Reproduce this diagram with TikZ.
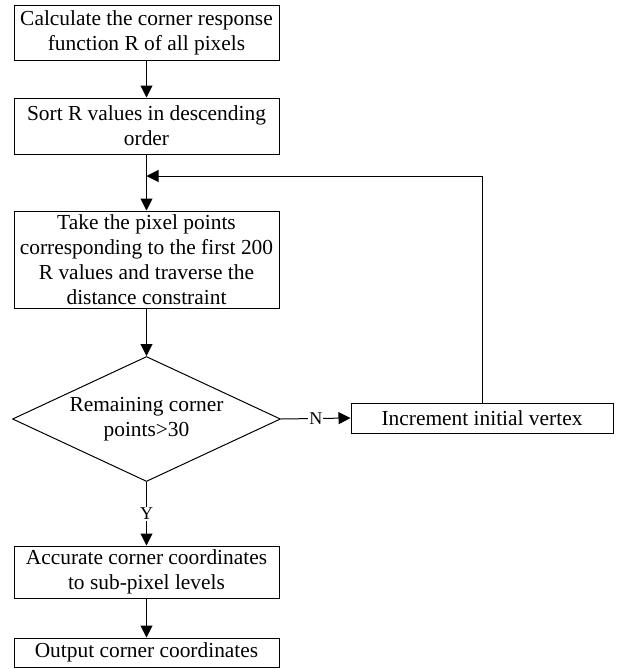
\documentclass[tikz,border=0pt]{standalone}
\usepackage{fontspec}
\setmainfont{Liberation Serif}
\usetikzlibrary{shapes.geometric,arrows.meta,positioning,calc}

\begin{document}
\begin{tikzpicture}[x=0.5pt, y=-0.5pt, line width=0.5pt,
    font=\fontsize{10.7}{12.4}\selectfont,
    box/.style={draw, align=center, inner sep=0pt, minimum width=132.5pt},
    decision/.style={draw, diamond, align=center, inner sep=0pt, aspect=2.14,
        minimum width=134pt, minimum height=62.5pt},
    arr/.style={-{Triangle[length=6pt,width=6pt]}},
    lbl/.style={fill=white, inner sep=0.5pt, font=\fontsize{9}{10}\selectfont}]
    \useasboundingbox (0,0) rectangle (620,669);
    \node[box, minimum height=27.5pt] (calc) at (146.5,32.5)
        {Calculate the corner response\\function R of all pixels};
    \node[box, minimum height=28pt] (sort) at (146.5,126)
        {Sort R values in descending\\order};
    \node[box, minimum height=48.5pt] (take) at (146.5,259.5)
        {Take the pixel points\\corresponding to the first 200\\R values and traverse the\\distance constraint};
    \node[decision] (check) at (146.5,419) {Remaining corner\\points>30};
    \node[box, minimum width=131pt, minimum height=15pt] (incr) at (482,418)
        {Increment initial vertex};
    \node[box, minimum height=26pt] (acc) at (146.5,572)
        {Accurate corner coordinates\\to sub-pixel levels};
    \node[box, minimum height=14.5pt] (out) at (146.5,652.5)
        {Output corner coordinates};
    \coordinate (join) at (146.5,176);

    \draw[arr] (calc) -- (sort);
    \draw[arr] (sort) -- (take);
    \draw[arr] (take) -- (check);
    \draw[arr] (check.east) -- node[lbl] {N} (incr.west);
    \draw[arr] (incr.north) |- (join);
    \draw[arr] (check.south) -- node[lbl] {Y} (acc.north);
    \draw[arr] (acc) -- (out);
\end{tikzpicture}
\end{document}
